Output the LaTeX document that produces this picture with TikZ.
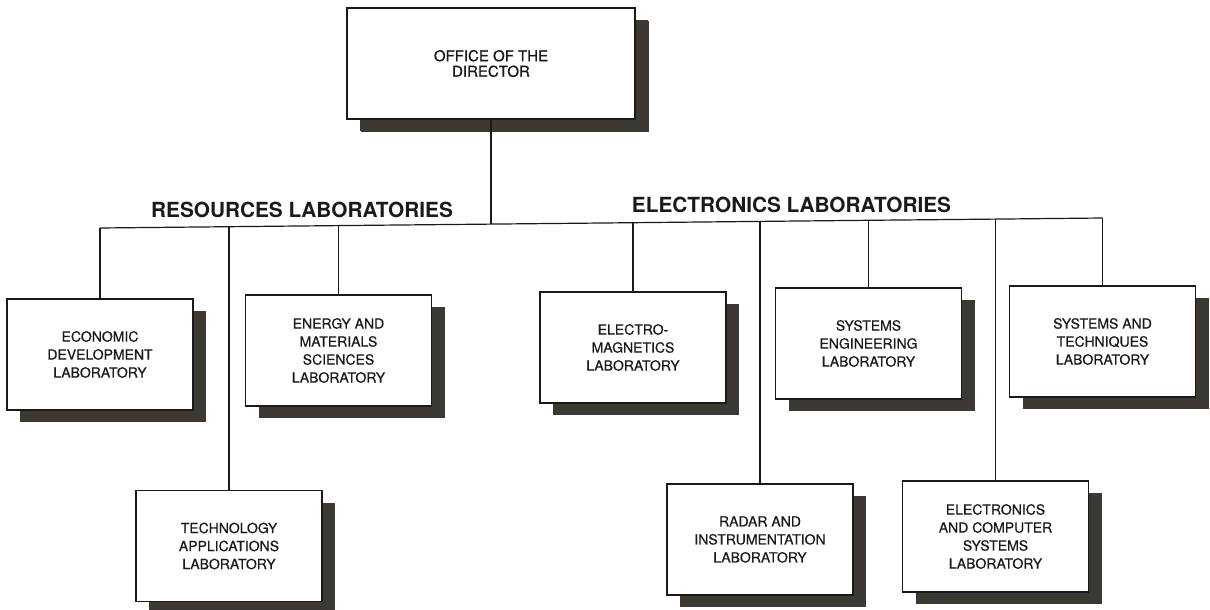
\documentclass[tikz,border=0pt]{standalone}
\usepackage{fontspec}
\setmainfont{TeX Gyre Heros}
\newfontfamily\boxfont[FakeBold=0.5]{TeX Gyre Heros}
\usetikzlibrary{shadows}
\definecolor{shadowcol}{RGB}{60,56,52}
\definecolor{inkcol}{RGB}{28,26,24}
\tikzset{
  labbox/.style={draw=inkcol, line width=1.2pt, fill=white, inner sep=0pt,
    minimum width=186pt, minimum height=111pt, align=center, text=inkcol,
    font=\boxfont\fontsize{14}{18}\selectfont,
    general shadow={shadow xshift=13pt, shadow yshift=-12pt, fill=shadowcol, draw=none}},
  dirbox/.style={labbox, minimum width=288pt, font=\boxfont\fontsize{15}{15.5}\selectfont,
    general shadow={shadow xshift=14pt, shadow yshift=-13pt, fill=shadowcol, draw=none}},
  conn/.style={draw=inkcol, line width=1.2pt},
  header/.style={anchor=base, text=inkcol, font=\fontsize{20.8}{24}\selectfont\bfseries, inner sep=0pt}
}
\begin{document}
\begin{tikzpicture}[x=1pt, y=-1pt]
\useasboundingbox[fill=white] (0,0) rectangle (1210,610);

% boxes
\node[dirbox] (dir) at (491,63.5) {OFFICE OF THE\\DIRECTOR};
\node[labbox] (econ) at (100,354.5) {ECONOMIC\\DEVELOPMENT\\LABORATORY};
\node[labbox] (energy) at (338.5,350.5) {ENERGY AND\\MATERIALS\\SCIENCES\\LABORATORY};
\node[labbox] (tech) at (229,546) {TECHNOLOGY\\APPLICATIONS\\LABORATORY};
\node[labbox] (em) at (633,347.5) {ELECTRO-\\MAGNETICS\\LABORATORY};
\node[labbox] (syseng) at (868.5,343.5) {SYSTEMS\\ENGINEERING\\LABORATORY};
\node[labbox] (st) at (1102.5,341.5) {SYSTEMS AND\\TECHNIQUES\\LABORATORY};
\node[labbox] (radar) at (760,539.5) {RADAR AND\\INSTRUMENTATION\\LABORATORY};
\node[labbox] (ecs) at (995.5,536.5) {ELECTRONICS\\AND COMPUTER\\SYSTEMS\\LABORATORY};

% headers
\node[header] (reshead) at (302,217) {RESOURCES LABORATORIES};
\node[header] (elehead) at (791.5,212) {ELECTRONICS LABORATORIES};

% bus junctions
\coordinate (jecon) at (100,228);
\coordinate (jtech) at (229,226.7);
\coordinate (jen) at (338.5,225.6);
\coordinate (jdir) at (491,224.1);
\coordinate (jem) at (633,222.7);
\coordinate (jradar) at (760,221.4);
\coordinate (jse) at (868.5,220.3);
\coordinate (jecs) at (995.5,219.1);
\coordinate (jst) at (1102.5,218);

% connectors
\draw[conn] (jecon) -- (jtech) -- (jen) -- (jdir) -- (jem) -- (jradar) -- (jse) -- (jecs) -- (jst);
\draw[conn] (dir.south) -- (jdir);
\draw[conn] (jecon) -- (econ.north);
\draw[conn] (jtech) -- (tech.north);
\draw[conn] (jen) -- (energy.north);
\draw[conn] (jem) -- (em.north);
\draw[conn] (jradar) -- (radar.north);
\draw[conn] (jse) -- (syseng.north);
\draw[conn] (jecs) -- (ecs.north);
\draw[conn] (jst) -- (st.north);
\end{tikzpicture}
\end{document}
